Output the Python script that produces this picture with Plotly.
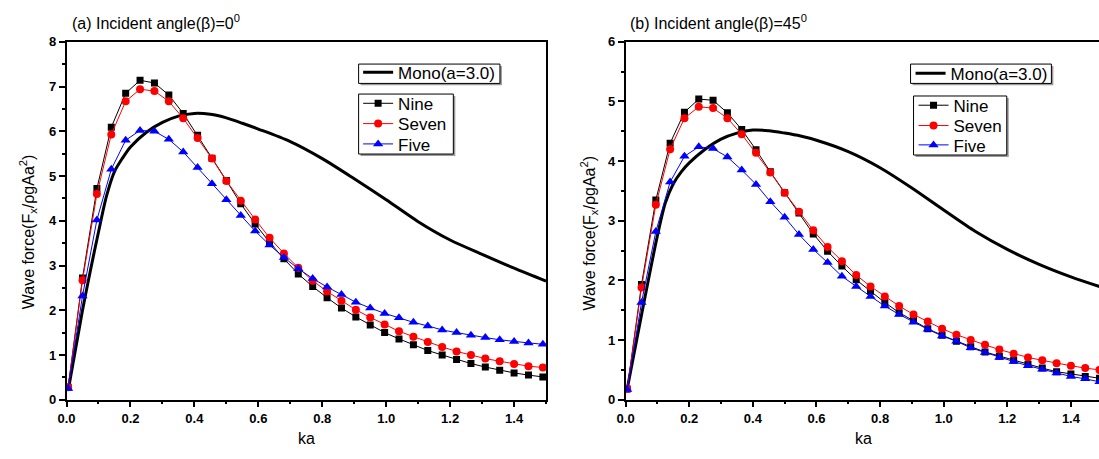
import plotly.graph_objects as go

# ---------------- data ----------------
ka = [0.005, 0.05, 0.095, 0.14, 0.185, 0.23, 0.275, 0.32, 0.365, 0.41, 0.455, 0.5,
      0.545, 0.59, 0.635, 0.68, 0.725, 0.77, 0.815, 0.86, 0.905, 0.95, 0.995, 1.04,
      1.085, 1.13, 1.175, 1.22, 1.265, 1.31, 1.355, 1.40, 1.445, 1.49]

a_nine = [0.28, 2.72, 4.72, 6.09, 6.85, 7.14, 7.08, 6.81, 6.40, 5.91, 5.40, 4.90,
          4.38, 3.93, 3.52, 3.15, 2.81, 2.53, 2.28, 2.05, 1.85, 1.67, 1.50, 1.36,
          1.23, 1.10, 1.00, 0.90, 0.81, 0.73, 0.66, 0.60, 0.55, 0.51]
a_seven = [0.28, 2.67, 4.60, 5.93, 6.67, 6.94, 6.90, 6.67, 6.29, 5.85, 5.39, 4.89,
           4.45, 4.03, 3.62, 3.27, 2.95, 2.66, 2.42, 2.21, 2.01, 1.84, 1.68, 1.53,
           1.41, 1.29, 1.18, 1.08, 1.00, 0.92, 0.86, 0.80, 0.75, 0.72]
a_five = [0.25, 2.32, 4.02, 5.15, 5.80, 6.02, 6.00, 5.82, 5.54, 5.19, 4.83, 4.47,
          4.12, 3.77, 3.46, 3.18, 2.93, 2.71, 2.52, 2.35, 2.18, 2.05, 1.93, 1.83,
          1.73, 1.65, 1.56, 1.50, 1.44, 1.39, 1.34, 1.30, 1.27, 1.24]

b_nine = [0.18, 1.93, 3.35, 4.30, 4.82, 5.04, 5.02, 4.81, 4.53, 4.19, 3.82, 3.47,
          3.13, 2.78, 2.49, 2.24, 2.01, 1.82, 1.63, 1.46, 1.33, 1.19, 1.08, 0.98,
          0.89, 0.80, 0.73, 0.66, 0.59, 0.53, 0.47, 0.43, 0.39, 0.36]
b_seven = [0.18, 1.88, 3.27, 4.20, 4.72, 4.91, 4.89, 4.72, 4.45, 4.14, 3.81, 3.47,
           3.15, 2.84, 2.56, 2.32, 2.09, 1.90, 1.73, 1.57, 1.43, 1.31, 1.19, 1.09,
           1.00, 0.92, 0.84, 0.77, 0.71, 0.66, 0.61, 0.57, 0.53, 0.50]
b_five = [0.17, 1.63, 2.82, 3.65, 4.08, 4.24, 4.21, 4.07, 3.85, 3.61, 3.32, 3.06,
          2.77, 2.52, 2.30, 2.07, 1.90, 1.73, 1.57, 1.43, 1.30, 1.18, 1.07, 0.98,
          0.87, 0.79, 0.71, 0.64, 0.57, 0.51, 0.45, 0.39, 0.35, 0.30]

mono_ka = [0.005, 0.05, 0.075, 0.1, 0.125, 0.15, 0.175, 0.2, 0.25, 0.3, 0.35, 0.4,
           0.45, 0.5, 0.55, 0.6, 0.7, 0.8, 0.9, 1.0, 1.1, 1.2, 1.3, 1.4, 1.5]
a_mono = [0.2, 2.0, 2.9, 3.75, 4.55, 5.1, 5.4, 5.65, 5.98, 6.2, 6.34, 6.4,
          6.38, 6.3, 6.18, 6.05, 5.77, 5.39, 4.94, 4.47, 3.98, 3.57, 3.25, 2.94, 2.65]
b_mono = [0.18, 1.42, 2.1, 2.75, 3.3, 3.62, 3.82, 3.97, 4.2, 4.37, 4.47, 4.52,
          4.51, 4.47, 4.42, 4.35, 4.16, 3.89, 3.55, 3.18, 2.82, 2.52, 2.27, 2.06, 1.88]

series_names = ["Nine", "Seven", "Five"]
mono_name = "Mono(a=3.0)"
titles = ["(a) Incident angle(β)=0<sup>0</sup>", "(b) Incident angle(β)=45<sup>0</sup>"]
x_title = "ka"
y_title = "Wave force(F<sub>x</sub>/ρgAa<sup>2</sup>)"

# ---------------- styling ----------------
W, H = 1099, 459
FONT = "Liberation Sans, Arial, sans-serif"
colors = ["#000000", "#FF0000", "#0000FF"]
symbols = ["square", "circle", "triangle-up"]
sizes = [7, 8, 9]


def fx(p):
    return p / W


def fy(p):
    return 1 - p / H


fig = go.Figure()

# legend layout per panel: (legend id, x of legend, y-centre of entry)
panels = [
    dict(xa="x", ya="y", data=[a_nine, a_seven, a_five], mono=a_mono,
         leg_mono=("legend", 352, 68),
         leg_ser=[("legend2", 352, 100), ("legend3", 352, 121), ("legend4", 352, 142)],
         box_mono=(352.5, 59, 495, 79), box_ser=(352.5, 90, 448, 152)),
    dict(xa="x2", ya="y2", data=[b_nine, b_seven, b_five], mono=b_mono,
         leg_mono=("legend5", 909, 69),
         leg_ser=[("legend6", 912, 102), ("legend7", 912, 123), ("legend8", 912, 143)],
         box_mono=(909, 59, 1051, 79), box_ser=(912, 92, 1006, 153)),
]

leg_common = dict(bgcolor="rgba(0,0,0,0)", borderwidth=0,
                  font=dict(family=FONT, size=17, color="black"),
                  xanchor="left", yanchor="middle", itemclick=False,
                  itemdoubleclick=False)
legends = {}
shapes = []

for p in panels:
    lid, lx, ly = p["leg_mono"]
    legends[lid] = dict(x=fx(lx), y=fy(ly), **leg_common)
    fig.add_trace(go.Scatter(
        x=mono_ka, y=p["mono"], mode="lines", name=mono_name, showlegend=True,
        line=dict(color="black", width=3, shape="spline", smoothing=0.8),
        xaxis=p["xa"], yaxis=p["ya"], legend=lid))
    for (lid, lx, ly), name, vals, c, s, sz in zip(p["leg_ser"], series_names, p["data"],
                                                  colors, symbols, sizes):
        legends[lid] = dict(x=fx(lx), y=fy(ly), **leg_common)
        fig.add_trace(go.Scatter(
            x=ka, y=vals, mode="lines+markers", name=name, showlegend=True,
            line=dict(color=c, width=1),
            marker=dict(color=c, symbol=s, size=sz, line=dict(width=0)),
            xaxis=p["xa"], yaxis=p["ya"], legend=lid))
    for (x0, y0, x1, y1) in (p["box_mono"], p["box_ser"]):
        # light shadow then the framed box
        shapes.append(dict(type="rect", xref="paper", yref="paper",
                           x0=fx(x0 + 2), x1=fx(x1 + 2), y0=fy(y1 + 2), y1=fy(y0 + 2),
                           fillcolor="#9a9a9a", line=dict(width=0), layer="above"))
        shapes.append(dict(type="rect", xref="paper", yref="paper",
                           x0=fx(x0), x1=fx(x1), y0=fy(y1), y1=fy(y0),
                           fillcolor="white", line=dict(color="black", width=1),
                           layer="above"))

ydom = [fy(406), fy(36)]
tickfont = dict(family=FONT, size=13, color="black", weight="bold")
common_ax = dict(showline=True, linecolor="black", linewidth=1.5, showgrid=False,
                 zeroline=False, ticks="outside", ticklen=6, tickwidth=1.5,
                 tickcolor="black", tickfont=tickfont)
minor_x = dict(ticks="outside", ticklen=3, dtick=0.1, tickcolor="black", tickwidth=1.5)
minor_y = dict(ticks="outside", ticklen=3, dtick=0.5, tickcolor="black", tickwidth=1.5)

x2_end = (W - 621.7) / 320.7

fig.update_layout(
    width=W, height=H,
    margin=dict(l=0, r=0, t=0, b=0),
    paper_bgcolor="white", plot_bgcolor="white",
    font=dict(family=FONT, color="black"),
    showlegend=True,
    xaxis=dict(domain=[fx(58), fx(541.5)], range=[0, 1.5], dtick=0.2, tickformat=".1f",
               anchor="y", mirror=True, minor=minor_x, **common_ax),
    yaxis=dict(domain=ydom, range=[0, 8], dtick=1, anchor="x", mirror=True,
               minor=minor_y, **common_ax),
    xaxis2=dict(domain=[fx(621.7), 1.0], range=[0, x2_end], dtick=0.2, tickformat=".1f",
                anchor="y2", mirror=True, minor=minor_x, **common_ax),
    yaxis2=dict(domain=ydom, range=[0, 6], dtick=1, anchor="x2", mirror=False,
                minor=minor_y, **common_ax),
    shapes=shapes,
    **legends,
)

ann_font = dict(family=FONT, size=16, color="black")
annotations = [
    dict(text=titles[0], x=fx(61), y=fy(16), xanchor="left", yanchor="middle"),
    dict(text=titles[1], x=fx(624.5), y=fy(16), xanchor="left", yanchor="middle"),
    dict(text=x_title, x=fx(300), y=fy(446), xanchor="center", yanchor="middle"),
    dict(text=x_title, x=fx(862), y=fy(446), xanchor="center", yanchor="middle"),
    dict(text=y_title, x=fx(20), y=fy(232), xanchor="center", yanchor="middle", textangle=-90),
    dict(text=y_title, x=fx(585), y=fy(234), xanchor="center", yanchor="middle", textangle=-90),
]
for a in annotations:
    a.update(xref="paper", yref="paper", showarrow=False, font=ann_font)
fig.update_layout(annotations=annotations)

fig.write_html("out.html")
